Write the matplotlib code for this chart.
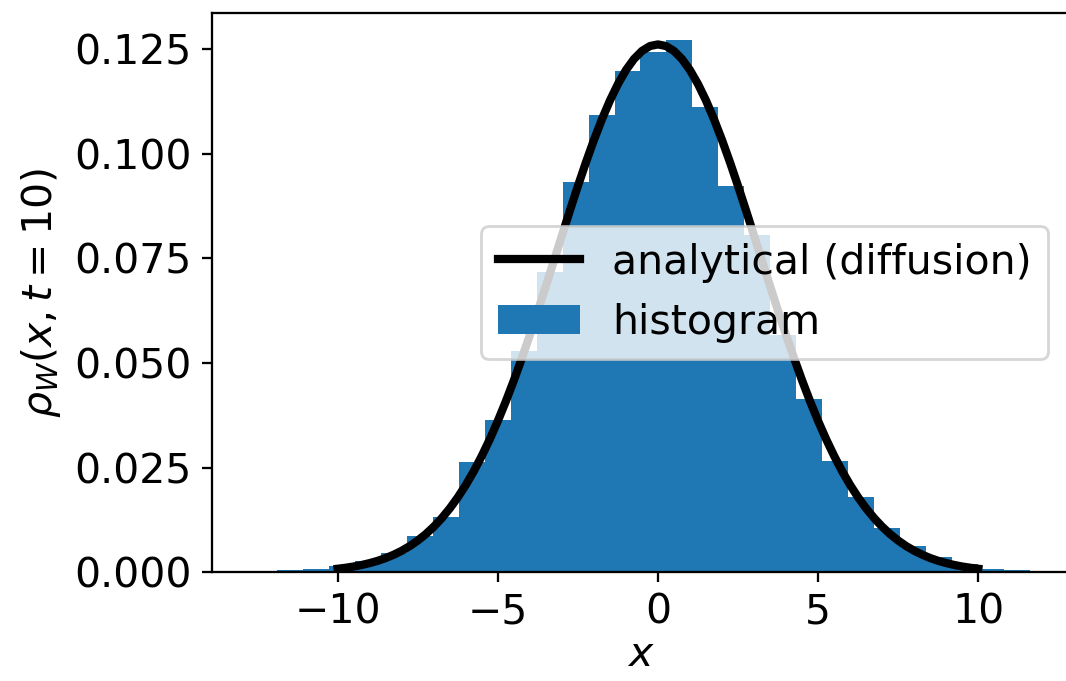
import matplotlib
matplotlib.use("Agg")
import matplotlib.pyplot as plt
import numpy as np

plt.rcParams.update({
    "font.family": "DejaVu Sans",
    "font.size": 14.4,
})

# ---- data ------------------------------------------------------------------
# histogram: 29 equal bins between these edges, density values per bin
HIST_LO, HIST_HI = -11.9, 11.62
HIST_VALS = [0.0005, 0.0008, 0.0015, 0.0027, 0.0047, 0.0086, 0.0132, 0.0263,
             0.0363, 0.0528, 0.0717, 0.0933, 0.1093, 0.1198, 0.1244, 0.1272,
             0.1112, 0.0923, 0.0805, 0.0566, 0.0413, 0.0265, 0.0180, 0.0105,
             0.0063, 0.0037, 0.0020, 0.0007, 0.0006]

# analytical curve, sampled every 0.25 from -10 to 10
CURVE_X = np.linspace(-10, 10, 81)
CURVE_Y = [0.00085, 0.00109, 0.00138, 0.00175, 0.00220, 0.00274, 0.00340,
           0.00420, 0.00514, 0.00626, 0.00758, 0.00911, 0.01089, 0.01293,
           0.01526, 0.01789, 0.02085, 0.02415, 0.02780, 0.03180, 0.03615,
           0.04083, 0.04584, 0.05113, 0.05669, 0.06246, 0.06838, 0.07440,
           0.08044, 0.08644, 0.09230, 0.09795, 0.10329, 0.10825, 0.11274,
           0.11668, 0.12001, 0.12266, 0.12459, 0.12577, 0.12616,
           0.12577, 0.12459, 0.12266, 0.12001, 0.11668, 0.11274, 0.10825,
           0.10329, 0.09795, 0.09230, 0.08644, 0.08044, 0.07440, 0.06838,
           0.06246, 0.05669, 0.05113, 0.04584, 0.04083, 0.03615, 0.03180,
           0.02780, 0.02415, 0.02085, 0.01789, 0.01526, 0.01293, 0.01089,
           0.00911, 0.00758, 0.00626, 0.00514, 0.00420, 0.00340, 0.00274,
           0.00220, 0.00175, 0.00138, 0.00109, 0.00085]

edges = np.linspace(HIST_LO, HIST_HI, len(HIST_VALS) + 1)
centers = 0.5 * (edges[:-1] + edges[1:])

fig = plt.figure(figsize=(1066 / 205, 681 / 205), dpi=205)
# right spine falls just outside the canvas, as in the reference
ax = fig.add_axes([0.1986, 0.1596, 0.8042, 0.8209])

ax.plot(CURVE_X, CURVE_Y, color="black", linewidth=2.9,
        label="analytical (diffusion)")
ax.hist(centers, bins=edges, weights=HIST_VALS, color="C0",
        label="histogram")

ax.set_xlim(-13.93, 12.83)
ax.set_ylim(0, 0.1336)
ax.set_xticks([-10, -5, 0, 5, 10])
ax.set_yticks([0.0, 0.025, 0.05, 0.075, 0.1, 0.125])
ax.set_xlabel("$x$", labelpad=1.0)
ax.set_ylabel(r"$\rho_W(x,t=10)$")
ax.legend(loc="center right")

fig.savefig("out.png", dpi=205)
